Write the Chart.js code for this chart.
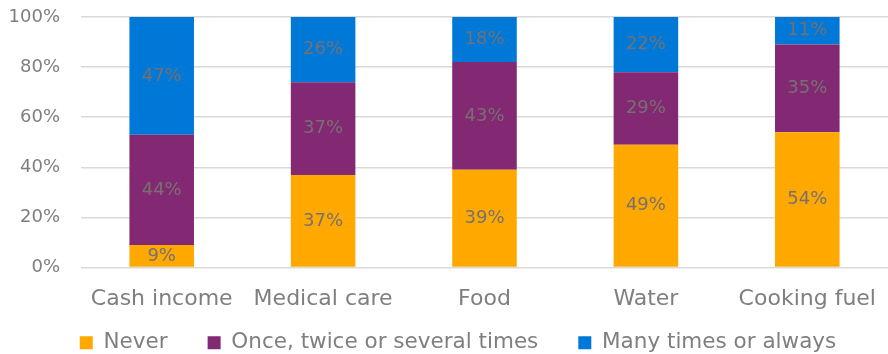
<!DOCTYPE html>
<html>
<head>
<meta charset="utf-8">
<script src="https://cdn.jsdelivr.net/npm/chart.js@4/dist/chart.umd.min.js"></script>
<style>
  html, body { margin: 0; padding: 0; background: #fff; }
  #wrap { width: 888px; height: 354px; }
</style>
</head>
<body>
<div id="wrap"><canvas id="chart"></canvas></div>
<script>
// categorias e valores (%)
const categories = ["Cash income", "Medical care", "Food", "Water", "Cooking fuel"];
const never = [9, 37, 39, 49, 54];
const sometimes = [44, 37, 43, 29, 35];
const always = [47, 26, 18, 22, 11];
const yTicks = [0, 20, 40, 60, 80, 100];

const FONT = "'DejaVu Sans', sans-serif";
const GREY = "#7f7f7f";
const LEGEND_HEIGHT = 62; // altura real desenhada da legenda (sobrepõe o espaço do eixo x)
const LEGEND_OFFSET_X = 28; // empurra a legenda um pouco para a direita

// legenda mais alta que o espaço reservado + rótulos dentro das barras
const barLabels = {
    id: "barLabels",
    afterLayout(chart) {
        const lg = chart.legend;
        if (lg) {
            lg.top = lg.bottom - LEGEND_HEIGHT;
            lg.height = LEGEND_HEIGHT;
            lg.left += LEGEND_OFFSET_X;
            lg.width -= LEGEND_OFFSET_X;
        }
    },
    afterDatasetsDraw(chart) {
        const ctx = chart.ctx;
        ctx.save();
        ctx.fillStyle = "#767171";
        ctx.font = "18px " + FONT;
        ctx.textAlign = "center";
        ctx.textBaseline = "middle";
        chart.data.datasets.forEach((ds, i) => {
            chart.getDatasetMeta(i).data.forEach((bar, j) => {
                const y = (bar.y + bar.base) / 2;
                ctx.fillText(ds.data[j] + "%", bar.x, y);
            });
        });
        ctx.restore();
    }
};

new Chart(document.getElementById("chart"), {
    type: "bar",
    data: {
        labels: categories,
        datasets: [
            { label: "Never", data: never, backgroundColor: "#FFA800" },
            { label: "Once, twice or several times", data: sometimes, backgroundColor: "#832873" },
            { label: "Many times or always", data: always, backgroundColor: "#0078D7" }
        ]
    },
    options: {
        responsive: true,
        maintainAspectRatio: false,
        animation: false,
        categoryPercentage: 0.4,
        barPercentage: 1,
        layout: { padding: 0 },
        plugins: {
            legend: {
                position: "bottom",
                align: "center",
                maxHeight: 32,
                labels: {
                    color: GREY,
                    font: { family: FONT, size: 21.5 },
                    boxWidth: 13,
                    boxHeight: 13,
                    padding: 40
                }
            },
            tooltip: { enabled: false }
        },
        scales: {
            x: {
                stacked: true,
                grid: { display: false },
                border: { display: false },
                ticks: { color: GREY, font: { family: FONT, size: 22 }, padding: 10, maxRotation: 0 }
            },
            y: {
                stacked: true,
                min: 0,
                max: 100,
                afterBuildTicks: axis => { axis.ticks = yTicks.map(v => ({ value: v })); },
                afterFit: axis => {
                    axis.width = 81;
                    axis.paddingTop = 17;
                },
                grid: { color: "#d9d9d9", lineWidth: 1.5, drawTicks: false },
                border: { display: false },
                ticks: {
                    color: GREY,
                    font: { family: FONT, size: 18 },
                    padding: 21,
                    callback: v => v + "%"
                }
            }
        }
    },
    plugins: [barLabels]
});
</script>
</body>
</html>
